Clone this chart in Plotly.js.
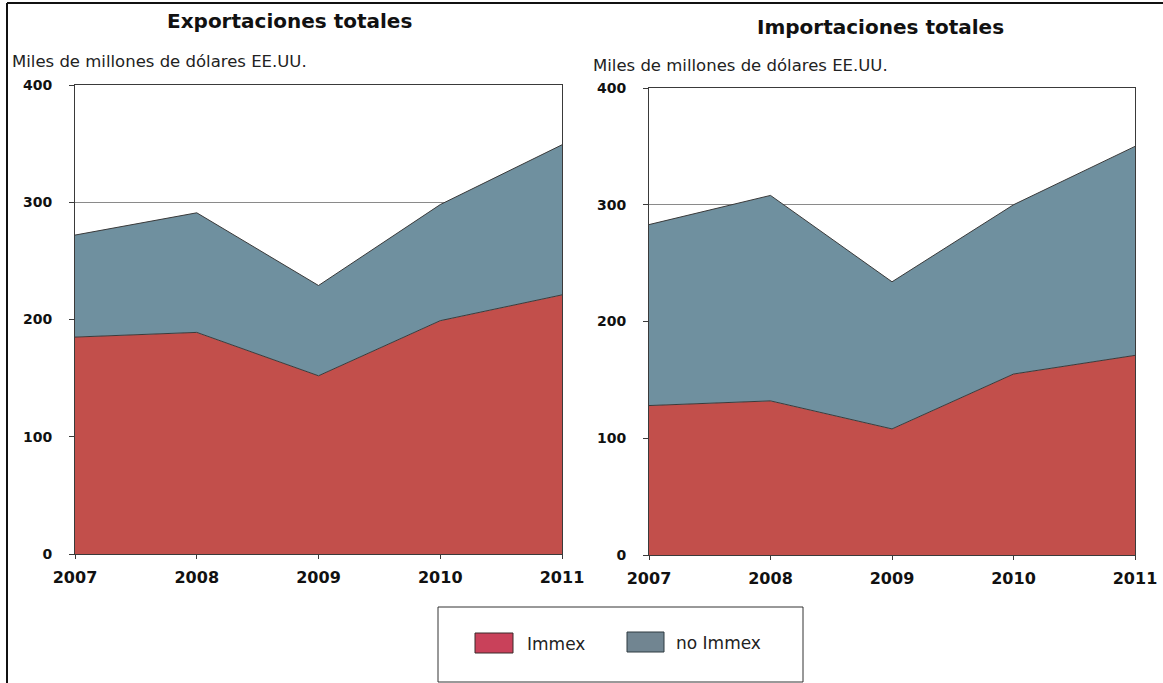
<!DOCTYPE html>
<html>
<head>
<meta charset="utf-8">
<script src="https://cdn.plot.ly/plotly-3.0.1.min.js"></script>
<style>
  html, body { margin: 0; padding: 0; background: #ffffff; }
  #chart { width: 1163px; height: 683px; }
</style>
</head>
<body>
<div id="chart"></div>
<script>
// Years on the horizontal axis
const years = [2007, 2008, 2009, 2010, 2011];

// Exports, billions of US dollars
const expImmex = [185, 189, 152, 199, 221];
const expNoImmex = [87, 102, 77, 99, 128];

// Imports, billions of US dollars
const impImmex = [128, 132, 108, 155, 171];
const impNoImmex = [155, 176, 126, 145, 179];

const yTicks = [0, 100, 200, 300, 400];
const xTickLabels = ['2007', '2008', '2009', '2010', '2011'];

const seriesNames = ['Immex', 'no Immex'];
const red = '#c24f4b';
const blue = '#6f909f';
const edge = '#3a3a3a';

function area(x, y, name, color, group, xa, ya) {
  return {
    x: x, y: y, name: name, type: 'scatter', mode: 'lines',
    stackgroup: group, fillcolor: color,
    line: { color: edge, width: 1 },
    xaxis: xa, yaxis: ya, showlegend: false, hoverinfo: 'x+y+name'
  };
}

const data = [
  area(years, expImmex, seriesNames[0], red, 'exp', 'x', 'y'),
  area(years, expNoImmex, seriesNames[1], blue, 'exp', 'x', 'y'),
  area(years, impImmex, seriesNames[0], red, 'imp', 'x2', 'y2'),
  area(years, impNoImmex, seriesNames[1], blue, 'imp', 'x2', 'y2')
];

const W = 1163, H = 683;
const px = v => v / W;
const py = v => 1 - v / H;

const FAMILY = 'DejaVu Sans, Verdana, sans-serif';
const xTickFont = { family: FAMILY, size: 16, color: '#111111', weight: 'bold' };
const yTickFont = { family: FAMILY, size: 14, color: '#111111', weight: 'bold' };

function xAxis(domain, anchor) {
  return {
    domain: domain, anchor: anchor, range: [2007, 2011],
    tickvals: years, ticktext: xTickLabels,
    showgrid: false, zeroline: false,
    showline: true, mirror: true, linecolor: edge, linewidth: 1,
    ticks: 'outside', ticklen: 4, tickcolor: edge,
    tickfont: xTickFont, ticklabelstandoff: 5, fixedrange: true
  };
}
function yAxis(domain, anchor, standoff) {
  return {
    domain: domain, anchor: anchor, range: [0, 400],
    tickvals: yTicks, ticktext: yTicks.map(String),
    showgrid: true, gridcolor: '#8a8a8a', gridwidth: 1, zeroline: false,
    showline: true, mirror: true, linecolor: edge, linewidth: 1,
    ticks: 'outside', ticklen: 5, tickcolor: edge,
    tickfont: yTickFont, ticklabelstandoff: standoff, fixedrange: true
  };
}

const unitFont = { family: FAMILY, size: 16.5, color: '#222222' };
const legendFont = { family: FAMILY, size: 17, color: '#222222' };
const titleFont = { family: FAMILY, size: 20, color: '#111111', weight: 'bold' };

const layout = {
  width: W, height: H,
  margin: { l: 0, r: 0, t: 0, b: 0 },
  paper_bgcolor: '#ffffff', plot_bgcolor: '#ffffff',
  showlegend: false,
  xaxis: xAxis([px(75), px(562)], 'y'),
  yaxis: yAxis([py(554), py(85)], 'x', 14),
  xaxis2: xAxis([px(649), px(1135)], 'y2'),
  yaxis2: yAxis([py(555), py(88)], 'x2', 14),
  annotations: [
    { text: 'Exportaciones totales', xref: 'paper', yref: 'paper', x: px(289), y: py(21),
      xanchor: 'center', yanchor: 'middle', showarrow: false, font: titleFont },
    { text: 'Importaciones totales', xref: 'paper', yref: 'paper', x: px(881), y: py(27),
      xanchor: 'center', yanchor: 'middle', showarrow: false, font: titleFont },
    { text: 'Miles de millones de dólares EE.UU.', xref: 'paper', yref: 'paper', x: px(10), y: py(62),
      xanchor: 'left', yanchor: 'middle', showarrow: false, font: unitFont },
    { text: 'Miles de millones de dólares EE.UU.', xref: 'paper', yref: 'paper', x: px(591), y: py(65),
      xanchor: 'left', yanchor: 'middle', showarrow: false, font: unitFont },
    { text: seriesNames[0], xref: 'paper', yref: 'paper', x: px(525), y: py(644),
      xanchor: 'left', yanchor: 'middle', showarrow: false, font: legendFont },
    { text: seriesNames[1], xref: 'paper', yref: 'paper', x: px(674), y: py(643),
      xanchor: 'left', yanchor: 'middle', showarrow: false, font: legendFont }
  ],
  shapes: [
    // outer frame
    { type: 'line', xref: 'paper', yref: 'paper', x0: px(7), x1: px(7), y0: py(3), y1: py(683),
      line: { color: '#111111', width: 2 } },
    { type: 'line', xref: 'paper', yref: 'paper', x0: px(7), x1: 1, y0: py(3), y1: py(3),
      line: { color: '#111111', width: 2 } },
    // legend box and swatches
    { type: 'rect', xref: 'paper', yref: 'paper', x0: px(438), x1: px(803), y0: py(607), y1: py(682),
      line: { color: '#333333', width: 1 }, fillcolor: 'rgba(0,0,0,0)' },
    { type: 'rect', xref: 'paper', yref: 'paper', x0: px(475), x1: px(513), y0: py(633), y1: py(653),
      line: { color: '#3a2a2a', width: 1 }, fillcolor: '#c9415a' },
    { type: 'rect', xref: 'paper', yref: 'paper', x0: px(627), x1: px(664), y0: py(632), y1: py(652),
      line: { color: '#2f3a40', width: 1 }, fillcolor: '#718591' }
  ]
};

Plotly.newPlot('chart', data, layout, { displayModeBar: false, staticPlot: true });
</script>
</body>
</html>
